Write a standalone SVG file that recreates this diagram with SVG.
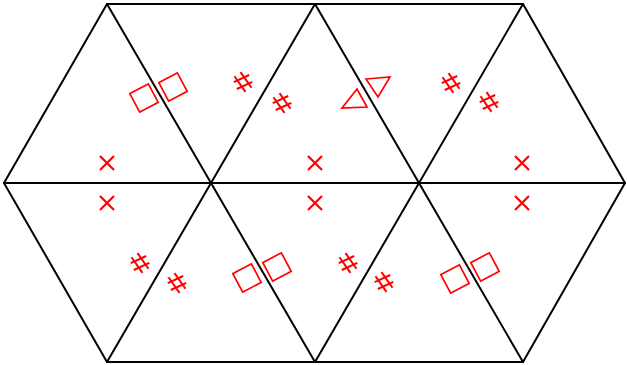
<svg xmlns="http://www.w3.org/2000/svg" width="627" height="365" viewBox="0 0 627 365">
<style>
.e{stroke:#000;stroke-width:2;fill:none;stroke-linecap:round;stroke-linejoin:round}
.m{stroke:#ff0000;stroke-width:1.7;fill:none}
.h{stroke:#ff0000;stroke-width:2;fill:none}
.x{stroke:#ff0000;stroke-width:2.2;fill:none}
</style>
<defs>
<path id="hash" d="M-8.5,-5.8L2.5,9.9M-2.5,-9.9L8.5,5.8M-6.2,7L9.3,-0.2M-9.3,0.2L6.2,-7"/>
<path id="cross" d="M-7,-7L7,7M-7,7L7,-7"/>
<rect id="sq" x="-10.5" y="-10.5" width="21" height="21"/>
</defs>
<g id="edges" class="e">
<path d="M107,4H523M4,183H625M107,362H523"/>
<path d="M107,4L315,362M315,4L523,362M523,4L625,183M4,183L107,362"/>
<path d="M107,4L4,183M315,4L107,362M523,4L315,362M625,183L523,362"/>
</g>
<g id="hashes" class="h">
<use href="#hash" transform="translate(243,82)"/>
<use href="#hash" transform="translate(282,103)"/>
<use href="#hash" transform="translate(451,83)"/>
<use href="#hash" transform="translate(489,102)"/>
<use href="#hash" transform="translate(140,263)"/>
<use href="#hash" transform="translate(177,283)"/>
<use href="#hash" transform="translate(348,263)"/>
<use href="#hash" transform="translate(384,282)"/>
</g>
<g id="crosses" class="x">
<use href="#cross" transform="translate(107,163)"/>
<use href="#cross" transform="translate(107,203)"/>
<use href="#cross" transform="translate(315,163)"/>
<use href="#cross" transform="translate(315,203)"/>
<use href="#cross" transform="translate(522,163)"/>
<use href="#cross" transform="translate(522,203)"/>
</g>
<g id="squares" class="m">
<use href="#sq" transform="translate(144,98) rotate(-28)"/>
<use href="#sq" transform="translate(173,87) rotate(-28)"/>
<use href="#sq" transform="translate(247,278) rotate(-28)"/>
<use href="#sq" transform="translate(277,267) rotate(-28)"/>
<use href="#sq" transform="translate(455,279) rotate(-28)"/>
<use href="#sq" transform="translate(485,267) rotate(-28)"/>
</g>
<g id="triangles" class="m">
<polygon points="342,108 357,89 367,107"/>
<polygon points="366,79 390,77 378,97"/>
</g>
</svg>
